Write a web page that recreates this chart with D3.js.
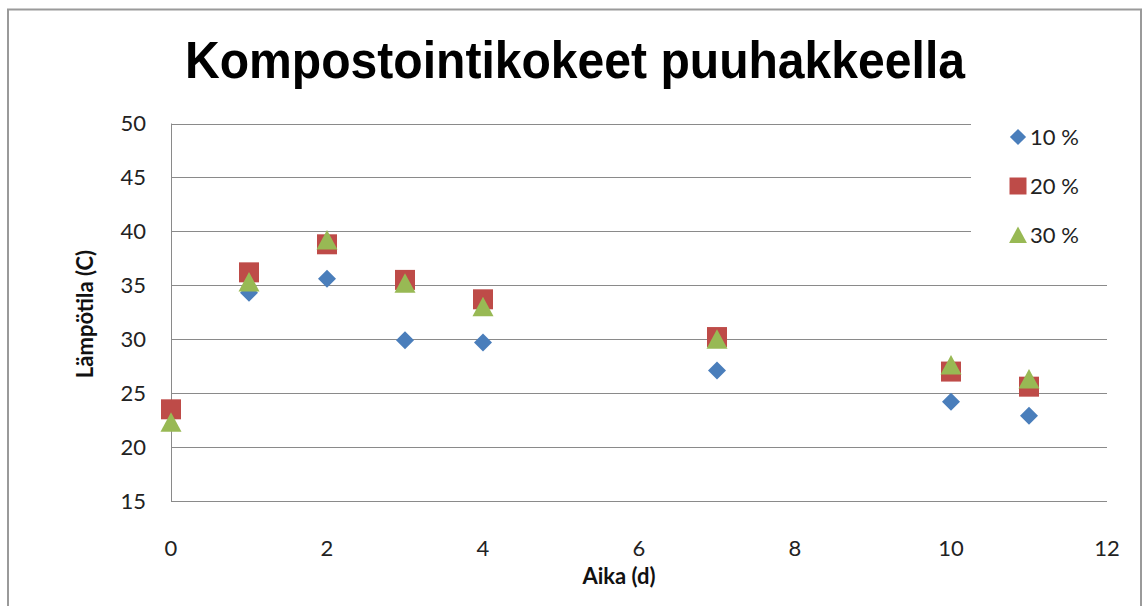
<!DOCTYPE html>
<html>
<head>
<meta charset="utf-8">
<script src="https://cdn.jsdelivr.net/npm/d3@7"></script>
<style>
  html, body { margin: 0; padding: 0; background: #fff; }
  svg { display: block; }
</style>
</head>
<body>
<svg id="chart" width="1144" height="606"></svg>
<script>
// Composting trial temperatures with wood chips
const days = [0, 1, 2, 3, 4, 7, 10, 11];
const temp10 = [23.5, 34.3, 35.6, 29.9, 29.7, 27.1, 24.2, 22.9];
const temp20 = [23.5, 36.2, 38.8, 35.5, 33.7, 30.2, 27.0, 25.6];
const temp30 = [22.3, 35.3, 39.2, 35.2, 33.0, 30.0, 27.6, 26.3];
const seriesNames = ["10 %", "20 %", "30 %"];
const xTicks = [0, 2, 4, 6, 8, 10, 12];
const yTicks = [15, 20, 25, 30, 35, 40, 45, 50];

const colors = ["#4a7ebb", "#be4b48", "#98b954"];
const shapes = ["diamond", "square", "triangle"];

const svg = d3.select("#chart");
const font = "Lato, 'Open Sans', 'DejaVu Sans', sans-serif";

// outer chart frame (open at the bottom edge)
svg.append("path")
  .attr("d", "M8,606 L8,9.5 L1141,9.5 L1141,606")
  .attr("fill", "none")
  .attr("stroke", "#9a9a9a")
  .attr("stroke-width", 2);

const x = d3.scaleLinear().domain([0, 12]).range([171, 1107]);
const y = d3.scaleLinear().domain([15, 50]).range([501, 123.5]);

// horizontal gridlines
svg.append("g")
  .selectAll("line")
  .data(yTicks)
  .join("line")
  .attr("x1", x(0)).attr("x2", x(12))
  .attr("y1", d => Math.round(y(d)) + 0.5)
  .attr("y2", d => Math.round(y(d)) + 0.5)
  .attr("stroke", "#8a8a8a")
  .attr("stroke-width", 1);

// y axis line
svg.append("line")
  .attr("x1", x(0) + 0.5).attr("x2", x(0) + 0.5)
  .attr("y1", y(50)).attr("y2", y(15))
  .attr("stroke", "#8a8a8a");

// y tick labels
svg.append("g")
  .selectAll("text")
  .data(yTicks)
  .join("text")
  .attr("x", 146)
  .attr("y", d => y(d))
  .attr("dy", "0.35em")
  .attr("text-anchor", "end")
  .attr("font-family", font)
  .attr("font-size", 22)
  .attr("fill", "#222")
  .text(d => d);

// x tick labels
svg.append("g")
  .selectAll("text")
  .data(xTicks)
  .join("text")
  .attr("x", d => x(d))
  .attr("y", 548)
  .attr("dy", "0.35em")
  .attr("text-anchor", "middle")
  .attr("font-family", font)
  .attr("font-size", 22)
  .attr("fill", "#222")
  .text(d => d);

// axis titles
svg.append("text")
  .attr("x", 619).attr("y", 584)
  .attr("text-anchor", "middle")
  .attr("font-family", font)
  .attr("font-weight", "bold")
  .attr("font-size", 22)
  .attr("fill", "#111")
  .text("Aika (d)");

svg.append("text")
  .attr("transform", "translate(93,314) rotate(-90)")
  .attr("text-anchor", "middle")
  .attr("font-family", font)
  .attr("font-weight", "bold")
  .attr("font-size", 22)
  .attr("fill", "#111")
  .text("Lämpötila (C)");

// chart title
svg.append("text")
  .attr("x", 575).attr("y", 78)
  .attr("text-anchor", "middle")
  .attr("font-family", "'Liberation Sans Narrow', 'Liberation Sans', Arial, sans-serif")
  .attr("font-weight", "bold")
  .attr("font-size", 52)
  .attr("textLength", 780)
  .attr("lengthAdjust", "spacingAndGlyphs")
  .attr("fill", "#000")
  .text("Kompostointikokeet puuhakkeella");

// marker shapes, centred on their bounding box
function markerPath(shape) {
  if (shape === "diamond") return "M0,-9 L9,0 L0,9 L-9,0 Z";
  if (shape === "square") return "M-10,-10 L10,-10 L10,10 L-10,10 Z";
  return "M0,-10 L10.5,9.5 L-10.5,9.5 Z";
}

const series = [temp10, temp20, temp30];
series.forEach((vals, i) => {
  svg.append("g")
    .selectAll("path")
    .data(days.map((d, j) => ({ day: d, value: vals[j] })))
    .join("path")
    .attr("transform", d => `translate(${x(d.day)},${y(d.value)})`)
    .attr("d", markerPath(shapes[i]))
    .attr("fill", colors[i]);
});

// legend (white backing hides the gridlines behind it)
const legend = svg.append("g");
legend.append("rect")
  .attr("x", 971).attr("y", 112)
  .attr("width", 136).attr("height", 150)
  .attr("fill", "#fff");

const legendRows = [137, 186, 235];
seriesNames.forEach((name, i) => {
  const shapeScale = i === 0 ? 0.9 : 0.85;
  legend.append("path")
    .attr("transform", `translate(1018,${legendRows[i]}) scale(${shapeScale})`)
    .attr("d", markerPath(shapes[i]))
    .attr("fill", colors[i]);
  legend.append("text")
    .attr("x", 1030)
    .attr("y", legendRows[i])
    .attr("dy", "0.35em")
    .attr("font-family", font)
    .attr("font-size", 22)
    .attr("fill", "#222")
    .text(name);
});
</script>
</body>
</html>
